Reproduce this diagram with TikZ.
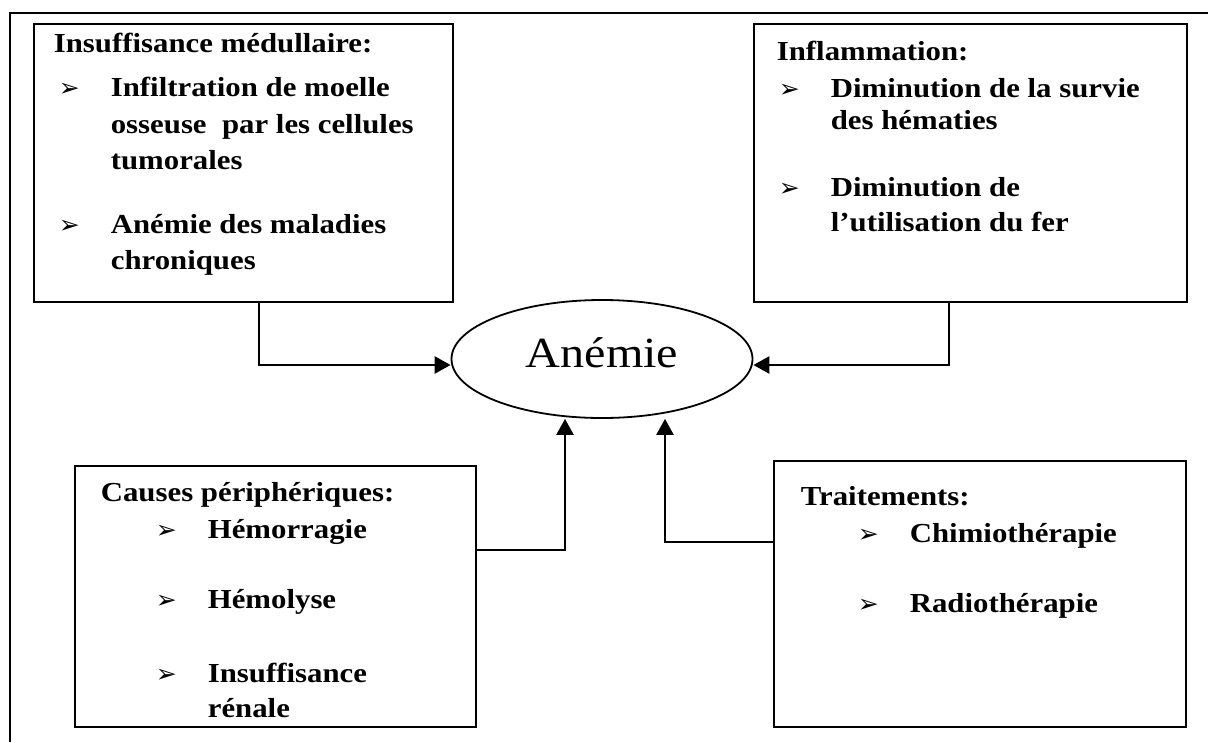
\documentclass[tikz,border=0pt]{standalone}
\usepackage{fontspec}
\setmainfont[FakeStretch=1.12]{Liberation Serif}
\newfontfamily\symfont{DejaVu Sans}
\usepackage{tikz}
\usetikzlibrary{shapes.geometric, arrows.meta}
\newcommand{\puce}{\makebox[52pt][l]{\symfont\fontsize{25}{25}\selectfont ➢}}
\newcommand{\suite}{\hspace*{52pt}}
\tikzstyle{cause} = [rectangle, draw=black, line width=1.7pt, anchor=north west, inner sep=0pt, font=\fontsize{27.5}{35}\selectfont\bfseries]
\tikzstyle{centre} = [ellipse, draw=black, line width=1.8pt, minimum width=301pt, minimum height=118pt, font=\fontsize{43}{43}\selectfont, text height=26pt, text depth=10pt]
\tikzstyle{arrow} = [line width=2.6pt, -{Triangle[length=16pt,width=17pt]}]

\begin{document}
\begin{tikzpicture}[x=1pt, y=-1pt]
\useasboundingbox (0,0) rectangle (1208,742);
\draw[line width=1.8pt] (1208,13) -- (10,13) -- (10,742);
  \node (medul) [cause] at (33,23) {\parbox[t][278pt][t]{419pt}{\leftskip=20pt\rule{0pt}{29pt}Insuffisance médullaire:\\[9pt]
\hspace*{5pt}\puce Infiltration de moelle\\[2pt]
\hspace*{5pt}\suite osseuse\ \ par les cellules\\[1pt]
\hspace*{5pt}\suite tumorales\\[29pt]
\hspace*{5pt}\puce Anémie des maladies\\[1pt]
\hspace*{5pt}\suite chroniques}};
  \node (inflam) [cause] at (753,23) {\parbox[t][278pt][t]{433pt}{\leftskip=23pt\rule{0pt}{37pt}Inflammation:\\[2pt]
\hspace*{2pt}\puce Diminution de la survie\\[-3pt]
\hspace*{2pt}\suite des hématies\\[32pt]
\hspace*{2pt}\puce Diminution de\\
\hspace*{2pt}\suite l’utilisation du fer}};
  \node (peri) [cause] at (74,465) {\parbox[t][261pt][t]{401pt}{\leftskip=26pt\rule{0pt}{36pt}Causes périphériques:\\[2pt]
\hspace*{55pt}\puce Hémorragie\\[35pt]
\hspace*{55pt}\puce Hémolyse\\[39pt]
\hspace*{55pt}\puce Insuffisance\\
\hspace*{55pt}\suite rénale}};
  \node (trait) [cause] at (773,460) {\parbox[t][266pt][t]{412pt}{\leftskip=27pt\rule{0pt}{45pt}Traitements:\\[2pt]
\hspace*{57pt}\puce Chimiothérapie\\[35pt]
\hspace*{57pt}\puce Radiothérapie}};
  \node (anemie) [centre] at (602,359) {Anémie};

  \draw[arrow] ([xshift=15.5pt]medul.south) |- ([yshift=-6pt]anemie.west);
  \draw[arrow] ([xshift=-21.5pt]inflam.south) |- ([yshift=-6pt]anemie.east);
  \draw[arrow] ([yshift=46.5pt]peri.east) -| ([xshift=-37pt]anemie.south);
  \draw[arrow] ([yshift=52pt]trait.west) -| ([xshift=63pt]anemie.south);
\end{tikzpicture}
\end{document}
